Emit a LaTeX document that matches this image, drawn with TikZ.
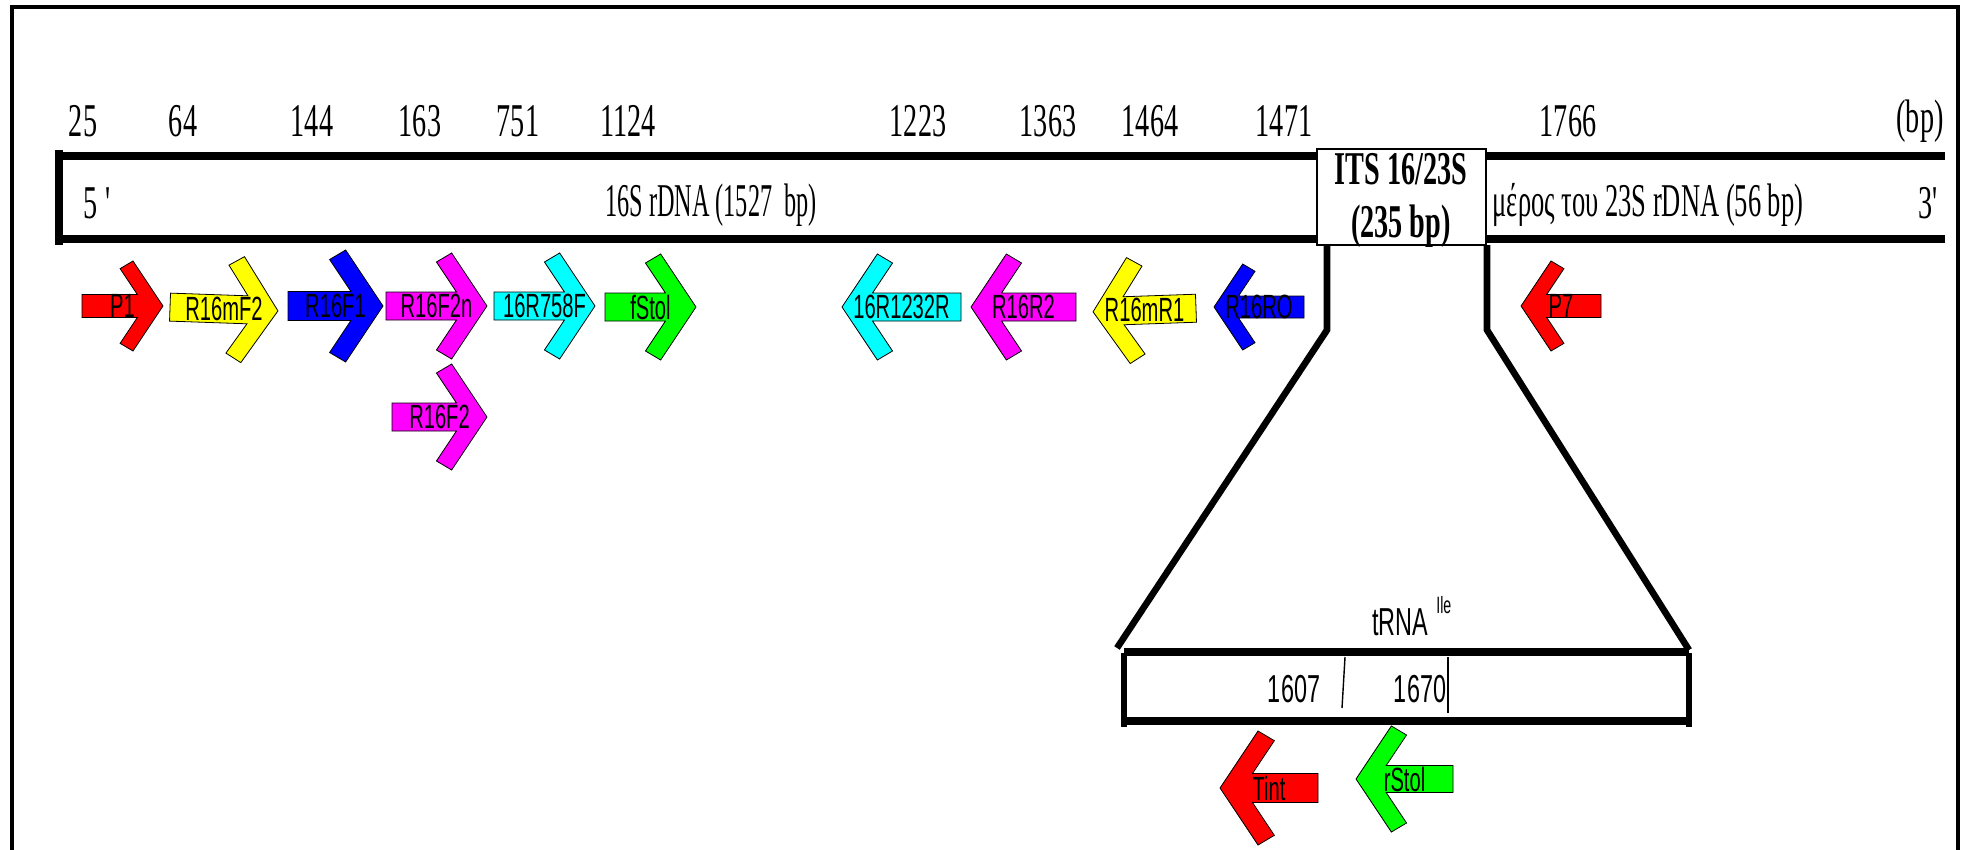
\documentclass[tikz,border=0pt]{standalone}
\usepackage{fontspec}
\setmainfont{Liberation Serif}[FakeStretch=0.6]
\newfontfamily\lsans{Liberation Sans}[FakeStretch=0.6]
\definecolor{cRed}{RGB}{255,0,0}
\definecolor{cYellow}{RGB}{255,255,0}
\definecolor{cBlue}{RGB}{0,0,255}
\definecolor{cMagenta}{RGB}{255,0,255}
\definecolor{cCyan}{RGB}{0,255,255}
\definecolor{cGreen}{RGB}{0,255,0}
\tikzset{
  numlbl/.style={font=\fontsize{23.5}{26}\selectfont, inner sep=0pt},
  boldlbl/.style={font=\bfseries\fontsize{23.5}{26}\selectfont, inner sep=0pt},
  arlbl/.style={font=\lsans\fontsize{16.8}{18}\selectfont, inner sep=0pt},
  lowlbl/.style={font=\lsans\fontsize{19.5}{21}\selectfont, inner sep=0pt},
  barline/.style={line width=4pt},
  linkline/.style={line width=3.3pt},
  frameline/.style={line width=2pt},
  thinline/.style={line width=0.7pt},
}
\newcommand{\primer}[8]{%
  \pgfmathsetmacro{\pdir}{sign(#4-#3)}%
  \pgfmathsetmacro{\pw}{0.4*#6}%
  \pgfmathsetmacro{\pcut}{0.17*#6}%
  \pgfmathsetmacro{\pk}{0.667}%
  \filldraw[fill=#2, draw=black, line width=0.4pt, line join=miter]
    (#3,{-(#5-#7)}) --
    ({#4-(\pdir)*(\pw+\pk*#7)},{-(#5-#7)}) --
    ({#4-(\pdir)*(\pw+\pk*(#6-\pcut))},{-(#5-#6+\pcut)}) --
    ({#4-(\pdir)*\pk*#6},{-(#5-#6)}) --
    (#4,{-(#5)}) --
    ({#4-(\pdir)*\pk*#6},{-(#5+#6)}) --
    ({#4-(\pdir)*(\pw+\pk*(#6-\pcut))},{-(#5+#6-\pcut)}) --
    ({#4-(\pdir)*(\pw+\pk*#7)},{-(#5+#7)}) --
    (#3,{-(#5+#7)}) -- cycle;
  \node[arlbl] (#1) at ({(#3+#4)/2},{-(#5)}) {#8};
}
\begin{document}
\begin{tikzpicture}[x=0.5pt,y=0.5pt]
\useasboundingbox (0,0) rectangle (1968,-850);
% outer frame
\draw[frameline] (12,-860) -- (12,-7) -- (1958,-7) -- (1958,-860);

% position numbers
\foreach \nm/\xx in {25/83, 64/183, 144/312, 163/420, 751/518, 1124/628,
                     1223/918, 1363/1048, 1464/1150, 1471/1284, 1766/1568}
  \node[numlbl] (n\nm) at (\xx,-121) {\nm};
\node[numlbl] (nbp) at (1920,-121) {(bp)};

% main bar
\draw[barline] (59,-156) -- (1317,-156);
\draw[barline] (59,-239) -- (1317,-239);
\draw[barline] (1486,-156) -- (1945,-156);
\draw[barline] (1486,-239) -- (1945,-239);
\draw[barline] (59,-150) -- (59,-245);

\node[numlbl, anchor=west] (five) at (83,-203) {5\,\textquotesingle};
\node[numlbl] (s16) at (711,-205) {\scalebox{0.86}[1]{16S rDNA (1527\ \ bp)}};
\node[numlbl] (s23) at (1648,-205) {\scalebox{0.94}[1]{μέρος του 23S rDNA (56 bp)}};
\node[numlbl] (three) at (1930,-203) {3\textquotesingle};

% ITS box
\draw[thinline, fill=white] (1317,-149) rectangle (1486,-245);
\node[boldlbl] (its) at (1401,-169) {ITS 16/23S};
\node[boldlbl] (itsbp) at (1401,-226) {(235 bp)};

% zoom lines
\coordinate (zl1) at (1327,-245);
\coordinate (zl2) at (1327,-330);
\coordinate (zl3) at (1117,-648);
\coordinate (zr1) at (1487,-245);
\coordinate (zr2) at (1487,-330);
\coordinate (zr3) at (1689,-650);
\draw[linkline, line join=miter] (zl1) -- (zl2) -- (zl3);
\draw[linkline, line join=miter] (zr1) -- (zr2) -- (zr3);

% lower bar (ITS detail)
\draw[barline] (1124,-652) -- (1689,-652);
\draw[barline] (1124,-721) -- (1689,-721);
\draw[linkline] (1124,-653) -- (1124,-727);
\draw[linkline] (1689,-653) -- (1689,-727);
\draw[thinline] (1345,-657) -- (1342,-708);
\draw[thinline] (1448,-657) -- (1448,-713);
\node[lowlbl] (t1607) at (1294,-689) {1607};
\node[lowlbl] (t1670) at (1420,-689) {1670};
\node[lowlbl, anchor=base west] (trna) at (1372,-635)
  {tRNA\hspace{4pt}\raisebox{11pt}{\fontsize{11.8}{13}\selectfont Ile}};

% forward primers
\primer{pP1}{cRed}{82}{163}{306}{45}{11.5}{P1}
\begin{scope}[rotate around={-2:(224,-309)}]
\primer{pR16mF2}{cYellow}{170}{278}{309}{53}{14}{R16mF2}
\end{scope}
\primer{pR16F1}{cBlue}{288}{383}{306}{56}{14.5}{R16F1}
\primer{pR16F2n}{cMagenta}{386}{487}{306}{53}{14}{R16F2n}
\primer{p16R758F}{cCyan}{494}{595}{306}{53}{14}{16R758F}
\primer{pfStol}{cGreen}{605}{696}{307}{53}{14}{fStol}
\primer{pR16F2}{cMagenta}{392}{487}{417}{53}{14}{R16F2}

% reverse primers
\primer{p16R1232R}{cCyan}{961}{842}{307}{53}{14}{16R1232R}
\primer{pR16R2}{cMagenta}{1076}{971}{307}{53}{14}{R16R2}
\begin{scope}[rotate around={2:(1145,-310)}]
\primer{pR16mR1}{cYellow}{1196}{1093}{310}{53}{14}{R16mR1}
\end{scope}
\primer{pR16RO}{cBlue}{1304}{1214}{307}{43}{11}{R16RO}
\primer{pP7}{cRed}{1601}{1521}{306}{45}{11.5}{P7}
\primer{pTint}{cRed}{1318}{1220}{788}{57}{14.5}{Tint}
\primer{prStol}{cGreen}{1453}{1356}{779}{53}{13.5}{rStol}
\end{tikzpicture}
\end{document}
